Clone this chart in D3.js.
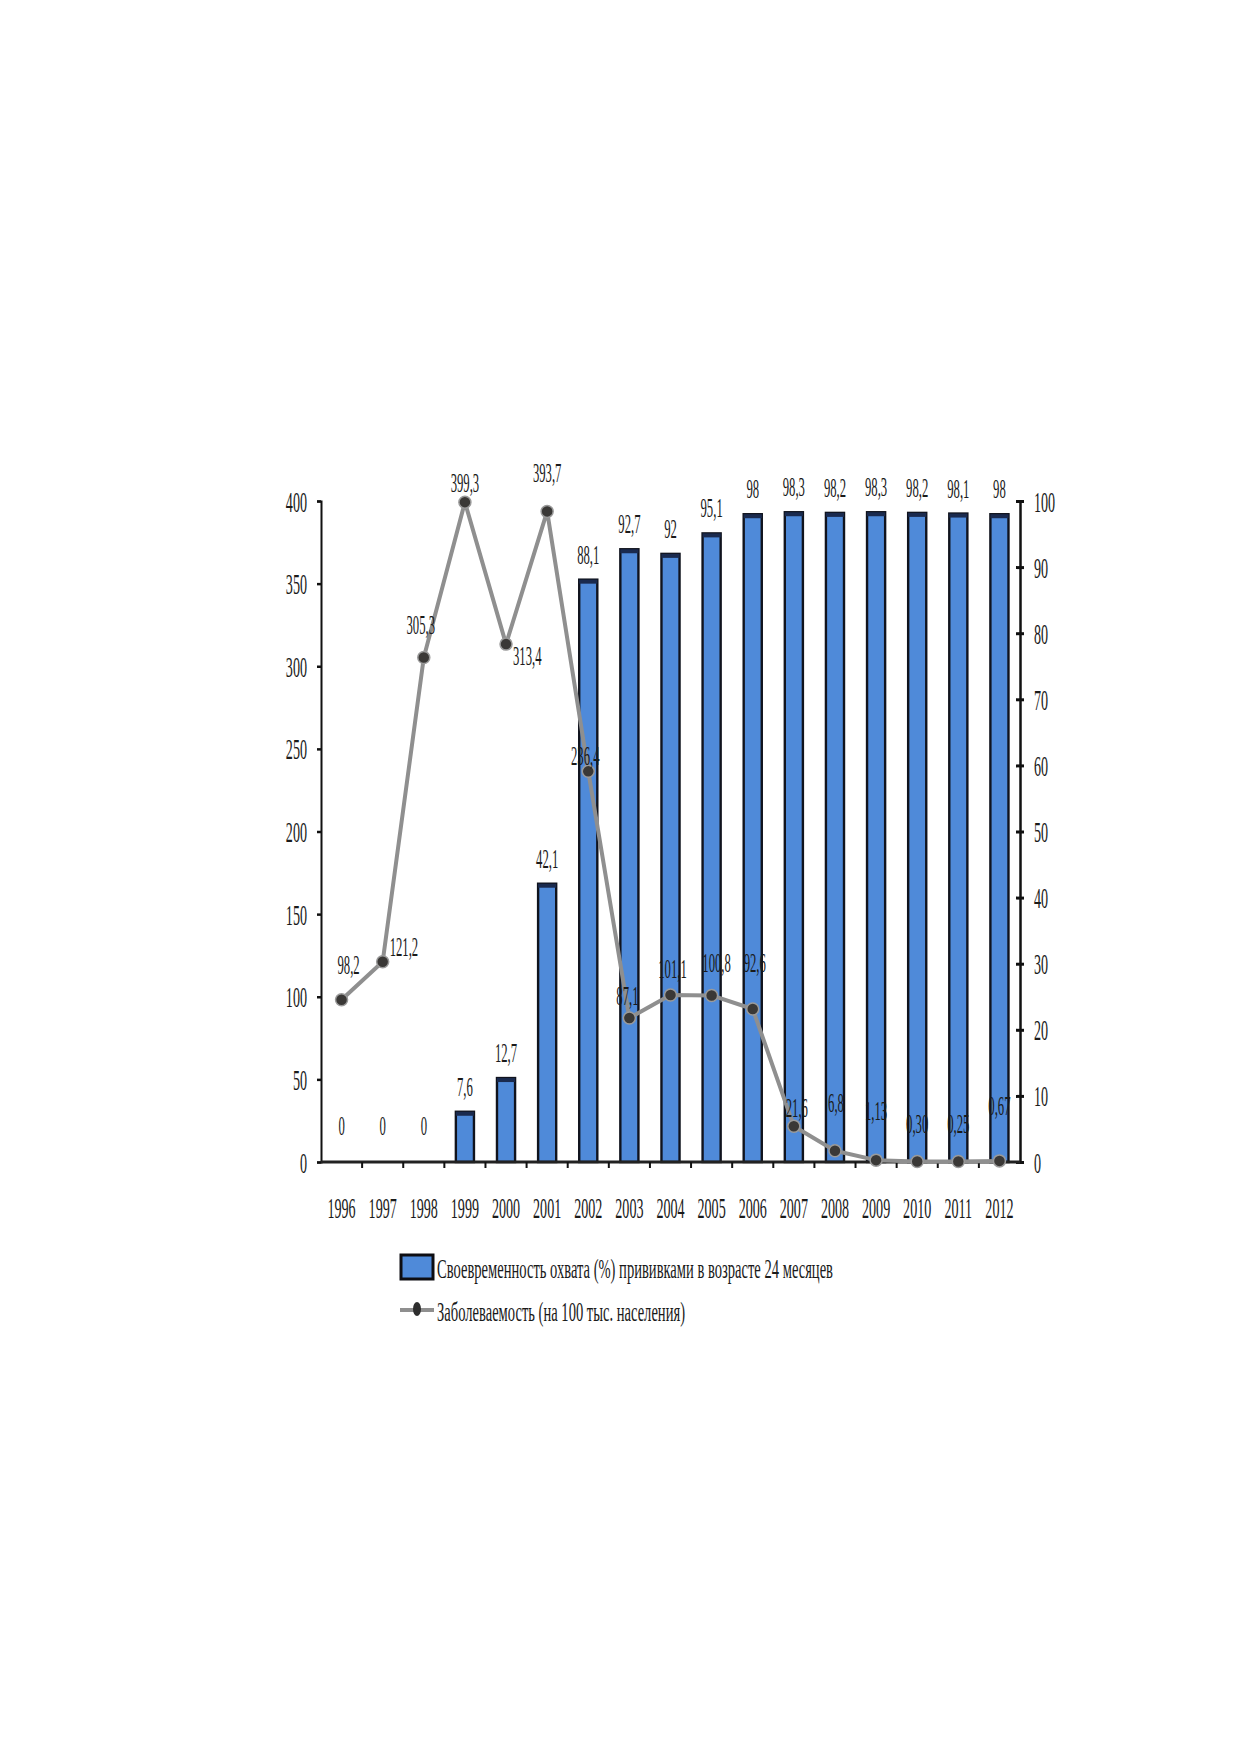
<!DOCTYPE html>
<html>
<head>
<meta charset="utf-8">
<script src="https://cdn.jsdelivr.net/npm/d3@7"></script>
<style>
  body { margin: 0; background: #fff; }
  svg { display: block; }
</style>
</head>
<body>
<div id="chart"></div>
<script>
// chart data
const years = ["1996","1997","1998","1999","2000","2001","2002","2003","2004","2005","2006","2007","2008","2009","2010","2011","2012"];
const coverage = [0, 0, 0, 7.6, 12.7, 42.1, 88.1, 92.7, 92, 95.1, 98, 98.3, 98.2, 98.3, 98.2, 98.1, 98];
const incidence = [98.2, 121.2, 305.3, 399.3, 313.4, 393.7, 236.4, 87.1, 101.1, 100.8, 92.6, 21.6, 6.8, 1.13, 0.30, 0.25, 0.67];
const leftTicks = [0, 50, 100, 150, 200, 250, 300, 350, 400];
const rightTicks = [0, 10, 20, 30, 40, 50, 60, 70, 80, 90, 100];
const legendBar = "Своевременность охвата  (%) прививками в возрасте 24 месяцев";
const legendLine = "Заболеваемость (на 100 тыс. населения)";

// label nudges for the line labels (dx, dy from the point)
const lineLabelNudge = [
  [7, -26], [7, -6], [-3, -23], [0, -10], [7, 21], [0, -29], [-3, -6], [-2, -13], [2, -17],
  [5, -23], [2, -37], [3, -9], [1, -39], [0, -40], [0, -29], [0, -29], [0, -46]
];
const lineLabelAnchor = ["middle","start","middle","middle","start","middle","middle","middle","middle",
  "middle","middle","middle","middle","middle","middle","middle","middle"];

const WIDTH = 1239;
const HEIGHT = 1752;
const PLOT = { left: 321, right: 1020, top: 501, bottom: 1162 };
const SX = 0.47;        // horizontal squeeze of the serif text
const FONT = "'Liberation Serif', 'DejaVu Serif', serif";
const BAR_FILL = "#4f8ad9";

const svg = d3.select("#chart").append("svg")
  .attr("width", WIDTH)
  .attr("height", HEIGHT);

svg.append("rect").attr("width", WIDTH).attr("height", HEIGHT).attr("fill", "#fff");

const x = d3.scaleBand().domain(years).range([PLOT.left, PLOT.right]).padding(0);
const yLeft = d3.scaleLinear().domain([0, 400]).range([PLOT.bottom, PLOT.top]);
const yRight = d3.scaleLinear().domain([0, 100]).range([PLOT.bottom, PLOT.top]);

const barW = x.bandwidth() * 0.44;

// squeeze a text element horizontally around its own x,y
function squeeze(sel, size) {
  sel.each(function () {
    const t = d3.select(this);
    const tx = +t.attr("x") || 0;
    const ty = +t.attr("y") || 0;
    t.attr("x", 0).attr("y", 0)
     .attr("transform", `translate(${tx},${ty}) scale(${SX},1)`)
     .attr("font-size", size)
     .attr("font-family", FONT)
     .attr("fill", "#1a1a1a");
  });
}

// bars
const barData = years.map((y, i) => ({ year: y, v: coverage[i] })).filter(d => d.v > 0);
const bars = svg.append("g").attr("class", "bars");
bars.selectAll("rect.bar")
  .data(barData)
  .join("rect")
  .attr("class", "bar")
  .attr("x", d => x(d.year) + (x.bandwidth() - barW) / 2)
  .attr("y", d => yRight(d.v))
  .attr("width", barW)
  .attr("height", d => PLOT.bottom - yRight(d.v))
  .attr("fill", BAR_FILL)
  .attr("stroke", "#10131d")
  .attr("stroke-width", 2.4);

bars.selectAll("rect.cap")
  .data(barData)
  .join("rect")
  .attr("class", "cap")
  .attr("x", d => x(d.year) + (x.bandwidth() - barW) / 2)
  .attr("y", d => yRight(d.v))
  .attr("width", barW)
  .attr("height", 4)
  .attr("fill", "#1a2a4e");

// bar value labels
svg.append("g").selectAll("text")
  .data(years.map((y, i) => ({ year: y, v: coverage[i] })))
  .join("text")
  .attr("x", d => x(d.year) + x.bandwidth() / 2)
  .attr("y", d => d.v > 0 ? yRight(d.v) - 16 : PLOT.bottom - 27)
  .attr("text-anchor", "middle")
  .text(d => d3.format("~")(d.v).replace(".", ","))
  .call(squeeze, 27);

// axes
const axisLeft = svg.append("g")
  .attr("transform", `translate(${PLOT.left},0)`)
  .call(d3.axisLeft(yLeft).tickValues(leftTicks).tickSize(4).tickPadding(10));
axisLeft.select(".domain").attr("stroke", "#111").attr("stroke-width", 2);
axisLeft.selectAll(".tick line").attr("stroke", "#111").attr("stroke-width", 2.5);
axisLeft.selectAll(".tick text").attr("dy", null).attr("y", 10).call(squeeze, 30);

const axisRight = svg.append("g")
  .attr("transform", `translate(${PLOT.right},0)`)
  .call(d3.axisRight(yRight).tickValues(rightTicks).tickSize(4).tickPadding(10));
axisRight.select(".domain").attr("stroke", "#111").attr("stroke-width", 2.5);
axisRight.selectAll(".tick line").attr("stroke", "#111").attr("stroke-width", 3).attr("x1", -4);
axisRight.selectAll(".tick text").attr("dy", null).attr("y", 10).call(squeeze, 30);

const axisBottom = svg.append("g")
  .attr("transform", `translate(0,${PLOT.bottom})`)
  .call(d3.axisBottom(x).tickSize(0).tickPadding(0));
axisBottom.select(".domain").remove();
axisBottom.selectAll(".tick text").attr("dy", null).attr("y", 56).call(squeeze, 30);

// baseline and boundary ticks
svg.append("line")
  .attr("x1", PLOT.left).attr("x2", PLOT.right)
  .attr("y1", PLOT.bottom).attr("y2", PLOT.bottom)
  .attr("stroke", "#222").attr("stroke-width", 3);

svg.append("g").selectAll("line")
  .data(years.slice(1))
  .join("line")
  .attr("x1", d => x(d)).attr("x2", d => x(d))
  .attr("y1", PLOT.bottom).attr("y2", PLOT.bottom + 6)
  .attr("stroke", "#111").attr("stroke-width", 2);

// incidence line
const pts = years.map((y, i) => ({ year: y, v: incidence[i], i }));
const line = d3.line()
  .x(d => x(d.year) + x.bandwidth() / 2)
  .y(d => yLeft(d.v));

svg.append("path")
  .datum(pts)
  .attr("d", line)
  .attr("fill", "none")
  .attr("stroke", "#8f8f8f")
  .attr("stroke-width", 4)
  .attr("stroke-linejoin", "round");

svg.append("g").selectAll("circle")
  .data(pts)
  .join("circle")
  .attr("cx", d => x(d.year) + x.bandwidth() / 2)
  .attr("cy", d => yLeft(d.v))
  .attr("r", 6)
  .attr("fill", "#3a3836")
  .attr("stroke", "#9a9a9a")
  .attr("stroke-width", 1.5);

svg.append("g").selectAll("text")
  .data(pts)
  .join("text")
  .attr("x", d => x(d.year) + x.bandwidth() / 2 + lineLabelNudge[d.i][0])
  .attr("y", d => yLeft(d.v) + lineLabelNudge[d.i][1])
  .attr("text-anchor", d => lineLabelAnchor[d.i])
  .text(d => (d.v < 2 ? d.v.toFixed(2) : d.v.toFixed(1)).replace(".", ","))
  .call(squeeze, 27);

// legend
const legend = svg.append("g");
legend.append("rect")
  .attr("x", 401).attr("y", 1255)
  .attr("width", 32).attr("height", 24)
  .attr("fill", BAR_FILL)
  .attr("stroke", "#0d0d12").attr("stroke-width", 3);

legend.append("text")
  .attr("x", 437).attr("y", 1278)
  .attr("font-family", FONT).attr("font-size", 27).attr("fill", "#1a1a1a")
  .attr("textLength", 396).attr("lengthAdjust", "spacingAndGlyphs")
  .text(legendBar);

legend.append("line")
  .attr("x1", 400).attr("x2", 434)
  .attr("y1", 1310).attr("y2", 1310)
  .attr("stroke", "#8f8f8f").attr("stroke-width", 4);
legend.append("ellipse")
  .attr("cx", 417).attr("cy", 1309)
  .attr("rx", 4).attr("ry", 7)
  .attr("fill", "#2e2e2e");

legend.append("text")
  .attr("x", 437).attr("y", 1321)
  .attr("font-family", FONT).attr("font-size", 27).attr("fill", "#1a1a1a")
  .attr("textLength", 248).attr("lengthAdjust", "spacingAndGlyphs")
  .text(legendLine);
</script>
</body>
</html>
